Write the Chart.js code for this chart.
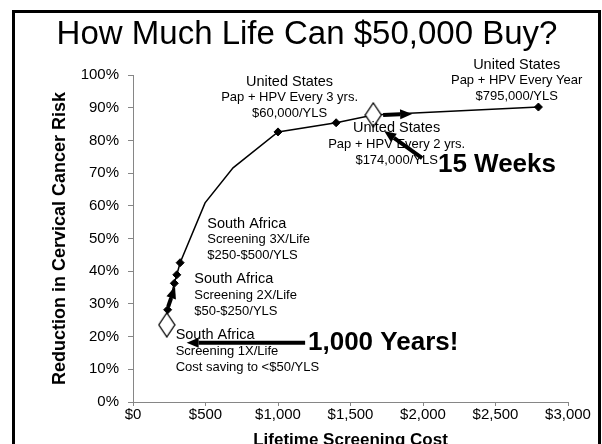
<!DOCTYPE html>
<html>
<head>
<meta charset="utf-8">
<script src="https://cdn.jsdelivr.net/npm/chart.js@4"></script>
<style>
  html, body { margin: 0; padding: 0; background: #fff; }
  canvas { display: block; }
</style>
</head>
<body>
<canvas id="lifeChart" width="602" height="444"></canvas>
<script>
// curve of lifetime cost ($) vs reduction in risk (%)
const curveCost      = [233, 239, 285, 302, 325, 497, 690, 1000, 1401, 1657, 2796];
const curveReduction = [23.6, 28.2, 36.3, 38.9, 42.6, 60.9, 71.6, 82.6, 85.4, 87.8, 90.2];

// strategies marked with small diamonds
const strategyCost      = [239, 285, 302, 325, 1000, 1401, 2796];
const strategyReduction = [28.2, 36.3, 38.9, 42.6, 82.6, 85.4, 90.2];

// highlighted strategies (open diamonds)
const highlightCost      = [233, 1657];
const highlightReduction = [23.6, 87.8];

const yTicks = [0, 10, 20, 30, 40, 50, 60, 70, 80, 90, 100];
const xTicks = [0, 500, 1000, 1500, 2000, 2500, 3000];

// callouts, placed in data units (cost, reduction)
const notes = [
  { lines: ['United States', 'Pap + HPV Every 3 yrs.', '$60,000/YLS'], x: 1080, y: 98.0, align: 'center' },
  { lines: ['United States', 'Pap + HPV Every Year', '$795,000/YLS'], x: 2646, y: 103.2, align: 'center' },
  { lines: ['United States', 'Pap + HPV Every 2 yrs.', '$174,000/YLS'], x: 1818, y: 83.8, align: 'center' },
  { lines: ['South Africa', 'Screening 3X/Life', '$250-$500/YLS'], x: 512, y: 54.5, align: 'left' },
  { lines: ['South Africa', 'Screening 2X/Life', '$50-$250/YLS'], x: 423, y: 37.6, align: 'left' },
  { lines: ['South Africa', 'Screening 1X/Life', 'Cost saving to <$50/YLS'], x: 294, y: 20.5, align: 'left' }
];
const bigNotes = [
  { text: '15 Weeks', x: 2103, y: 72.5 },
  { text: '1,000 Years!', x: 1207, y: 18.1 }
];
// arrows: [fromCost, fromReduction, toCost, toReduction]
const arrows = [
  [1187, 18.1, 370, 18.1],
  [1994, 74.6, 1732, 82.9],
  [1725, 87.8, 1925, 88.1],
  [243, 29.2, 290, 35.3]
];

const FONT = "'Liberation Sans', Arial, Helvetica, sans-serif";
Chart.defaults.font.family = FONT;
Chart.defaults.color = '#000';

// tall open diamond used for the highlighted points
function openDiamond() {
  const c = document.createElement('canvas');
  c.width = 18; c.height = 26;
  const g = c.getContext('2d');
  g.beginPath();
  g.moveTo(9, 1); g.lineTo(17, 13); g.lineTo(9, 25); g.lineTo(1, 13); g.closePath();
  g.fillStyle = '#fff'; g.fill();
  g.strokeStyle = '#000'; g.lineWidth = 1.3; g.stroke();
  return c;
}

function toPoints(xs, ys) {
  return xs.map((x, i) => ({ x: x, y: ys[i] }));
}

const annotate = {
  id: 'annotate',
  afterDatasetsDraw(chart) {
    const { ctx, scales: { x, y } } = chart;
    ctx.save();
    // arrows
    arrows.forEach(a => {
      const x0 = x.getPixelForValue(a[0]), y0 = y.getPixelForValue(a[1]);
      const x1 = x.getPixelForValue(a[2]), y1 = y.getPixelForValue(a[3]);
      const ang = Math.atan2(y1 - y0, x1 - x0);
      const head = 12, half = 5;
      const bx = x1 - head * Math.cos(ang), by = y1 - head * Math.sin(ang);
      ctx.strokeStyle = '#000'; ctx.fillStyle = '#000';
      ctx.lineWidth = 4;
      ctx.beginPath(); ctx.moveTo(x0, y0); ctx.lineTo(bx, by); ctx.stroke();
      ctx.beginPath();
      ctx.moveTo(x1, y1);
      ctx.lineTo(bx + half * Math.sin(ang), by - half * Math.cos(ang));
      ctx.lineTo(bx - half * Math.sin(ang), by + half * Math.cos(ang));
      ctx.closePath(); ctx.fill();
    });
    // callout text
    ctx.textBaseline = 'middle';
    notes.forEach(n => {
      const px = x.getPixelForValue(n.x), py = y.getPixelForValue(n.y);
      ctx.textAlign = n.align;
      n.lines.forEach((t, i) => {
        ctx.font = (i === 0 ? '14.5px ' : '13px ') + FONT;
        ctx.fillText(t, px, py + i * 16);
      });
    });
    ctx.textAlign = 'left';
    ctx.font = 'bold 26px ' + FONT;
    bigNotes.forEach(n => {
      ctx.fillText(n.text, x.getPixelForValue(n.x), y.getPixelForValue(n.y));
    });
    ctx.restore();
  },
  afterDraw(chart) {
    const ctx = chart.ctx;
    ctx.save();
    ctx.strokeStyle = '#000';
    ctx.lineWidth = 3;
    ctx.strokeRect(13.5, 11.5, 586, 480);
    ctx.restore();
  }
};

new Chart(document.getElementById('lifeChart'), {
  type: 'scatter',
  data: {
    datasets: [
      {
        data: toPoints(curveCost, curveReduction),
        showLine: true,
        borderColor: '#000',
        borderWidth: 1.5,
        pointRadius: 0,
        order: 3
      },
      {
        data: toPoints(strategyCost, strategyReduction),
        pointStyle: 'rectRot',
        pointRadius: 4,
        backgroundColor: '#000',
        borderColor: '#000',
        borderWidth: 1,
        order: 2
      },
      {
        data: toPoints(highlightCost, highlightReduction),
        pointStyle: openDiamond(),
        pointRadius: 10,
        order: 1
      }
    ]
  },
  options: {
    responsive: false,
    animation: false,
    devicePixelRatio: 1,
    layout: { padding: { left: 46, right: 34, top: 0, bottom: 0 } },
    plugins: {
      legend: { display: false },
      tooltip: { enabled: false },
      title: {
        display: true,
        text: 'How Much Life Can $50,000 Buy?',
        color: '#000',
        font: { size: 33, weight: 'normal' },
        padding: { top: 15, bottom: 20.4 }
      }
    },
    scales: {
      x: {
        type: 'linear',
        min: 0, max: 3000,
        afterBuildTicks: s => { s.ticks = xTicks.map(v => ({ value: v })); },
        afterFit: s => { s.height = 42; },
        border: { color: '#868686', width: 1 },
        grid: { drawOnChartArea: false, color: '#868686', tickLength: 4 },
        ticks: {
          padding: 0,
          font: { size: 15 },
          color: '#000',
          callback: v => '$' + v.toLocaleString('en-US')
        },
        title: {
          display: true,
          text: 'Lifetime Screening Cost',
          font: { size: 17, weight: 'bold' },
          color: '#000',
          padding: { top: 0, bottom: -7 }
        }
      },
      y: {
        min: 0, max: 100,
        afterBuildTicks: s => { s.ticks = yTicks.map(v => ({ value: v })); },
        afterFit: s => { s.width = 87; },
        border: { color: '#868686', width: 1 },
        grid: { drawOnChartArea: false, color: '#868686', tickLength: 5 },
        ticks: {
          padding: 9,
          font: { size: 15 },
          color: '#000',
          callback: v => v + '%'
        },
        title: {
          display: true,
          text: 'Reduction in Cervical Cancer Risk',
          font: { size: 18, weight: 'bold' },
          color: '#000',
          padding: { top: 3, bottom: 0 }
        }
      }
    }
  },
  plugins: [annotate]
});
</script>
</body>
</html>
